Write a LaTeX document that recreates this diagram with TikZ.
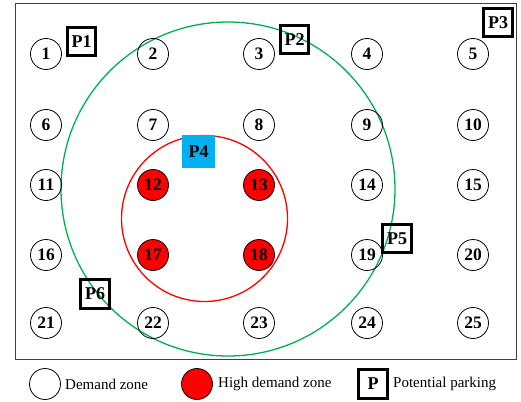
\documentclass[tikz,border=0pt]{standalone}
\usepackage{fontspec}
\setmainfont{Liberation Serif}

\definecolor{covergreen}{HTML}{00B050}
\definecolor{parkblue}{HTML}{00B0F0}

\begin{document}
\begin{tikzpicture}[x=1pt, y=-1pt,
  zone/.style={draw, circle, minimum size=31pt, inner sep=0pt, line width=0.8pt,
    font=\bfseries\fontsize{17.5}{17.5}\selectfont},
  hot/.style={zone, fill=red},
  park/.style={draw, line width=2.8pt, minimum size=28.5pt, inner sep=0pt,
    font=\bfseries\fontsize{18}{18}\selectfont},
  legendtext/.style={anchor=west, inner sep=0pt, font=\fontsize{15}{15}\selectfont}]
\useasboundingbox (0,0) rectangle (521,401);
\draw[gray!50!black, line width=0.9pt] (15,3) rectangle (516,359);

% coverage areas
\draw[covergreen, line width=1.3pt] (228,189) circle[radius=167pt];
\draw[red, line width=1.3pt] (204.5,218.5) circle[radius=83pt];

% demand zones
\foreach \y [count=\r from 0] in {54,125,185,255,323}
  \foreach \x [count=\c] in {46,153,259,367,473} {
    \pgfmathtruncatemacro\n{5*\r+\c}
    \def\st{zone}
    \ifnum\n=12 \def\st{hot}\fi
    \ifnum\n=13 \def\st{hot}\fi
    \ifnum\n=17 \def\st{hot}\fi
    \ifnum\n=18 \def\st{hot}\fi
    \node[\st] (z\n) at (\x,\y) {\n};
  }

% potential parkings
\node[park] (p1) at (81.5,41.5) {P1};
\node[park] (p2) at (294.5,39.5) {P2};
\node[park] (p3) at (498,22.5) {P3};
\node[park, draw=none, fill=parkblue, minimum size=33pt] (p4) at (198.5,151.5) {P4};
\node[park] (p5) at (397,238.5) {P5};
\node[park] (p6) at (95,294) {P6};

% legend
\node[zone] (lz) at (45,384) {};
\node[legendtext] (lzt) at (65,384) {Demand zone};
\node[hot] (lh) at (197,384) {};
\node[legendtext] (lht) at (218,384) {High demand zone};
\node[park] (lp) at (373,384) {P};
\node[legendtext] (lpt) at (393,384) {Potential parking};
\end{tikzpicture}
\end{document}
